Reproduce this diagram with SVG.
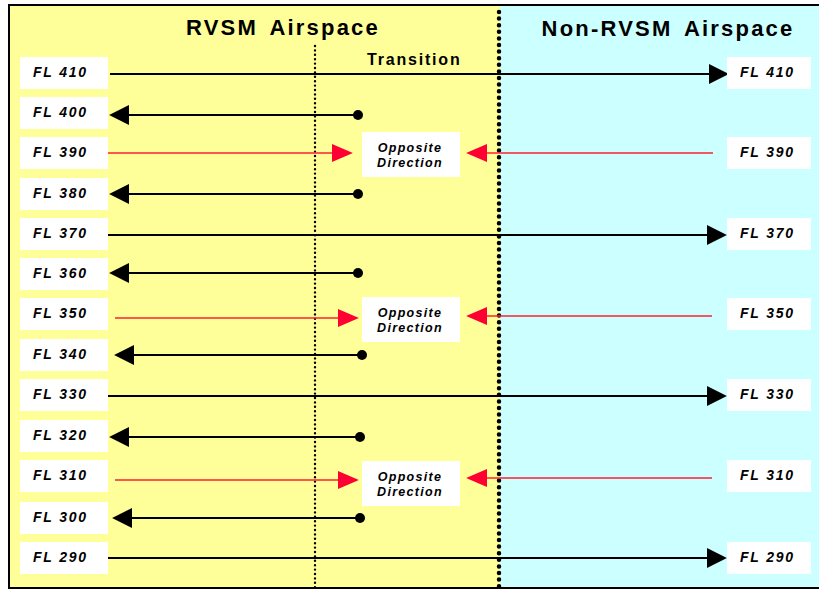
<svg xmlns="http://www.w3.org/2000/svg" width="819" height="590" viewBox="0 0 819 590">
<style>
.fl{font-family:"Liberation Sans",Arial,sans-serif;font-size:14px;font-weight:bold;font-style:italic;letter-spacing:1.8px;fill:#000}
.lbl{fill:#fff}
.title{font-family:"Liberation Sans",Arial,sans-serif;font-size:22px;font-weight:bold;letter-spacing:2.2px;word-spacing:4px;fill:#000;text-anchor:middle}
.trans{font-family:"Liberation Sans",Arial,sans-serif;font-size:16px;font-weight:bold;letter-spacing:1.8px;fill:#000}
.opp{font-family:"Liberation Sans",Arial,sans-serif;font-size:12.5px;font-weight:bold;font-style:italic;letter-spacing:1.3px;fill:#000;text-anchor:middle}
.blk{stroke:#000;stroke-width:2;fill:none;marker-end:url(#ah)}
.red{stroke:#FF2030;stroke-width:1.5;fill:none;marker-end:url(#rh)}
.dot{fill:#000}
</style>
<defs>
<marker id="ah" markerUnits="userSpaceOnUse" markerWidth="20" markerHeight="20" refX="2" refY="9.5" orient="auto" viewBox="0 0 19 19">
<path d="M0,0 L19,9.5 L0,19 z" fill="#000"/>
</marker>
<marker id="rh" markerUnits="userSpaceOnUse" markerWidth="21" markerHeight="18" refX="2" refY="8.5" orient="auto" viewBox="0 0 20 17">
<path d="M0,0 L20,8.5 L0,17 z" fill="#FF0033"/>
</marker>
</defs>
<rect x="0" y="0" width="819" height="590" fill="#fff"/>
<rect x="9" y="5" width="491" height="583" fill="#FFFF99"/>
<rect x="500" y="5" width="330" height="583" fill="#CCFFFF"/>
<rect x="9" y="5" width="830" height="583" fill="none" stroke="#000" stroke-width="2"/>
<line x1="315" y1="46" x2="315" y2="588" stroke="#000" stroke-width="2.4" stroke-linecap="round" stroke-dasharray="0 4.4"/>
<line x1="499" y1="12" x2="499" y2="588" stroke="#000" stroke-width="4.5" stroke-linecap="round" stroke-dasharray="0 6.6"/>
<text class="title" x="283" y="35">RVSM Airspace</text>
<text class="title" x="668" y="36">Non-RVSM Airspace</text>
<text class="trans" x="367" y="65">Transition</text>
<g id="connectors">
<line class="blk" x1="110" y1="74" x2="711" y2="74"/>
<line class="blk" x1="358" y1="115" x2="127" y2="115"/><circle class="dot" cx="358" cy="115" r="5"/>
<line class="red" x1="106" y1="153" x2="334" y2="153"/>
<line class="red" x1="713" y1="153" x2="485" y2="153"/>
<line class="blk" x1="358" y1="194" x2="127" y2="194"/><circle class="dot" cx="358" cy="194" r="5"/>
<line class="blk" x1="108" y1="235" x2="709" y2="235"/>
<line class="blk" x1="358" y1="273" x2="127" y2="273"/><circle class="dot" cx="358" cy="273" r="5"/>
<line class="red" x1="115" y1="318" x2="340" y2="318"/>
<line class="red" x1="712" y1="316" x2="485" y2="316"/>
<line class="blk" x1="362" y1="355" x2="132" y2="355"/><circle class="dot" cx="362" cy="355" r="5"/>
<line class="blk" x1="108" y1="396" x2="709" y2="396"/>
<line class="blk" x1="360" y1="437" x2="127" y2="437"/><circle class="dot" cx="360" cy="437" r="5"/>
<line class="red" x1="115" y1="480" x2="340" y2="480"/>
<line class="red" x1="712" y1="478" x2="485" y2="478"/>
<line class="blk" x1="360" y1="518" x2="130" y2="518"/><circle class="dot" cx="360" cy="518" r="5"/>
<line class="blk" x1="108" y1="558" x2="709" y2="558"/>
</g>
<g id="opp1"><rect class="lbl" x="362" y="132" width="98" height="45"/><text class="opp" x="410" y="152">Opposite</text><text class="opp" x="410" y="167">Direction</text></g>
<g id="opp2"><rect class="lbl" x="362" y="297" width="98" height="45"/><text class="opp" x="410" y="317">Opposite</text><text class="opp" x="410" y="332">Direction</text></g>
<g id="opp3"><rect class="lbl" x="362" y="461" width="98" height="45"/><text class="opp" x="410" y="481">Opposite</text><text class="opp" x="410" y="496">Direction</text></g>
<g id="l410"><rect class="lbl" x="20" y="57" width="88" height="32"/><text class="fl" x="33" y="77">FL 410</text></g>
<g id="l400"><rect class="lbl" x="20" y="97" width="88" height="32"/><text class="fl" x="33" y="117">FL 400</text></g>
<g id="l390"><rect class="lbl" x="20" y="137" width="88" height="32"/><text class="fl" x="33" y="157">FL 390</text></g>
<g id="l380"><rect class="lbl" x="20" y="178" width="88" height="32"/><text class="fl" x="33" y="198">FL 380</text></g>
<g id="l370"><rect class="lbl" x="20" y="218" width="88" height="32"/><text class="fl" x="33" y="238">FL 370</text></g>
<g id="l360"><rect class="lbl" x="20" y="258" width="88" height="32"/><text class="fl" x="33" y="278">FL 360</text></g>
<g id="l350"><rect class="lbl" x="20" y="298" width="88" height="32"/><text class="fl" x="33" y="318">FL 350</text></g>
<g id="l340"><rect class="lbl" x="20" y="339" width="88" height="32"/><text class="fl" x="33" y="359">FL 340</text></g>
<g id="l330"><rect class="lbl" x="20" y="379" width="88" height="32"/><text class="fl" x="33" y="399">FL 330</text></g>
<g id="l320"><rect class="lbl" x="20" y="420" width="88" height="32"/><text class="fl" x="33" y="440">FL 320</text></g>
<g id="l310"><rect class="lbl" x="20" y="460" width="88" height="32"/><text class="fl" x="33" y="480">FL 310</text></g>
<g id="l300"><rect class="lbl" x="20" y="502" width="88" height="32"/><text class="fl" x="33" y="522">FL 300</text></g>
<g id="l290"><rect class="lbl" x="20" y="542" width="88" height="32"/><text class="fl" x="33" y="562">FL 290</text></g>
<g id="r410"><rect class="lbl" x="727" y="57" width="84" height="32"/><text class="fl" x="740" y="77">FL 410</text></g>
<g id="r390"><rect class="lbl" x="727" y="137" width="84" height="32"/><text class="fl" x="740" y="157">FL 390</text></g>
<g id="r370"><rect class="lbl" x="727" y="218" width="84" height="32"/><text class="fl" x="740" y="238">FL 370</text></g>
<g id="r350"><rect class="lbl" x="727" y="298" width="84" height="32"/><text class="fl" x="740" y="318">FL 350</text></g>
<g id="r330"><rect class="lbl" x="727" y="379" width="84" height="32"/><text class="fl" x="740" y="399">FL 330</text></g>
<g id="r310"><rect class="lbl" x="727" y="460" width="84" height="32"/><text class="fl" x="740" y="480">FL 310</text></g>
<g id="r290"><rect class="lbl" x="727" y="542" width="84" height="32"/><text class="fl" x="740" y="562">FL 290</text></g>
</svg>
